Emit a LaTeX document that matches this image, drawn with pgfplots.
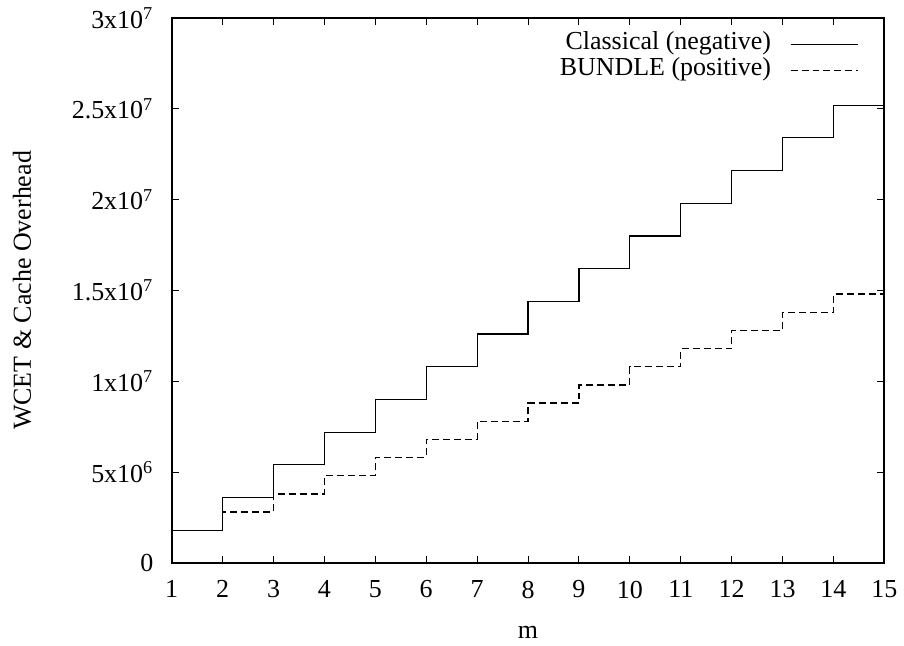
\documentclass[border=0pt]{standalone}
\usepackage{fontspec}
\setmainfont{Liberation Serif}
\usepackage{pgfplots}
\pgfplotsset{compat=1.18}

\begin{document}
\begin{tikzpicture}
\begin{axis}[
    scale only axis,
    width=357pt, height=273pt,
    xmin=1, xmax=15, ymin=0, ymax=3e7,
    xtick={1,...,15},
    ytick={0,5e6,1e7,1.5e7,2e7,2.5e7,3e7},
    yticklabels={0, 5x10\textsuperscript{6}, 1x10\textsuperscript{7}, 1.5x10\textsuperscript{7},
                 2x10\textsuperscript{7}, 2.5x10\textsuperscript{7}, 3x10\textsuperscript{7}},
    scaled y ticks=false,
    /pgf/number format/assume math mode=true,
    tick align=inside, xtick pos=both, ytick pos=both,
    major tick length=3.5pt,
    tick style={black, line width=0.5pt},
    axis line style={line width=1pt},
    font=\fontsize{13}{15.6}\selectfont,
    yticklabel style={xshift=-5.7pt},
    xticklabel style={yshift=-5.4pt},
    xlabel={m},
    xlabel style={at={(axis description cs:0.5,0)}, anchor=center, yshift=-35pt},
    ylabel={WCET \& Cache Overhead},
    ylabel style={at={(axis description cs:-0.21,0.5)}, anchor=center},
    legend plot pos=right,
    legend cell align=right,
    legend style={draw=none, fill=none, at={(1,1)}, anchor=north east,
        xshift=-9.5pt, yshift=-4.5pt, row sep=0pt, column sep=0pt,
        nodes={inner sep=0pt, text height=9pt, text depth=4pt},
        font=\fontsize{13}{15.6}\selectfont},
    legend image code/.code={\path (0pt,0pt); \draw[#1] (9.5pt,0pt) -- (43.5pt,0pt);},
]
\addplot[const plot, black, line width=0.6pt] coordinates {
    (1,1.8e6) (2,3.6e6) (3,5.4e6) (4,7.2e6) (5,9.0e6) (6,10.8e6) (7,12.6e6)
    (8,14.4e6) (9,16.2e6) (10,18.0e6) (11,19.8e6) (12,21.6e6) (13,23.4e6)
    (14,25.2e6) (15,25.2e6)
};
\addlegendentry{Classical (negative)}
\addplot[const plot, black, line width=0.6pt, dash pattern=on 3.5pt off 2pt] coordinates {
    (1,1.8e6) (2,2.8e6) (3,3.8e6) (4,4.8e6) (5,5.8e6) (6,6.8e6) (7,7.8e6)
    (8,8.8e6) (9,9.8e6) (10,10.8e6) (11,11.8e6) (12,12.8e6) (13,13.8e6)
    (14,14.8e6) (15,14.8e6)
};
\addlegendentry{BUNDLE (positive)}
\end{axis}
\path (current axis.south west) ++(-86pt,-39.5pt) coordinate (bbA);
\path (current axis.north east) ++(9pt,9pt) coordinate (bbB);
\path (bbA) rectangle (bbB);
\end{tikzpicture}
\end{document}
